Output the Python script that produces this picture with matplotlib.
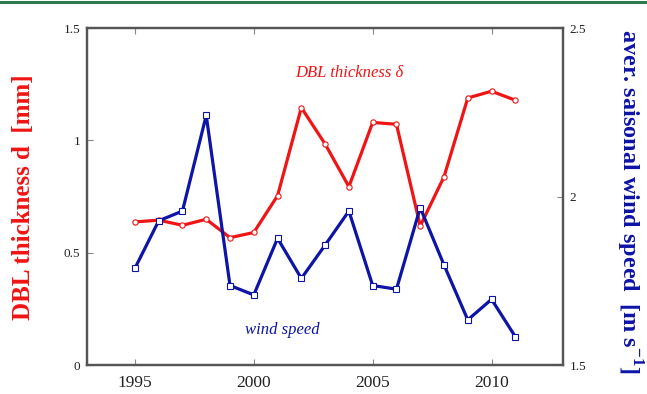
import matplotlib
matplotlib.use('Agg')
from matplotlib import pyplot as plt
from matplotlib.lines import Line2D
from matplotlib.ticker import FormatStrFormatter

plt.rcParams['font.family'] = ['Liberation Serif', 'DejaVu Serif']
plt.rcParams['mathtext.fontset'] = 'custom'
plt.rcParams['mathtext.rm'] = 'Liberation Serif'
plt.rcParams['mathtext.bf'] = 'Liberation Serif:bold'

# data
years = [1995, 1996, 1997, 1998, 1999, 2000, 2001, 2002, 2003,
         2004, 2005, 2006, 2007, 2008, 2009, 2010, 2011]
dbl = [0.637, 0.645, 0.622, 0.649, 0.567, 0.590, 0.754, 1.146, 0.984,
       0.794, 1.080, 1.072, 0.619, 0.838, 1.189, 1.219, 1.179]
wind = [1.787, 1.928, 1.957, 2.241, 1.736, 1.708, 1.876, 1.757, 1.856,
        1.957, 1.736, 1.725, 1.967, 1.797, 1.634, 1.695, 1.584]
x_ticks = [1995, 2000, 2005, 2010]
left_ticks = [0, 0.5, 1, 1.5]
right_ticks = [1.5, 2, 2.5]

red = '#f01414'
blue = '#0d14a6'
grey = '#555555'

fig = plt.figure(figsize=(6.47, 3.94), dpi=100)
ax = fig.add_axes([0.135, 0.0736, 0.735, 0.855])
ax2 = ax.twinx()

ax.plot(years, dbl, color=red, lw=2.3, marker='o', ms=3.8,
        mfc='white', mec=red, mew=0.8)
ax2.plot(years, wind, color=blue, lw=2.3, marker='s', ms=3.8,
         mfc='white', mec=blue, mew=0.8)

ax.set_xlim(1993, 2013)
ax.set_ylim(0, 1.5)
ax2.set_ylim(1.5, 2.5)
ax.set_xticks(x_ticks)
ax.set_yticks(left_ticks)
ax2.set_yticks(right_ticks)
ax.yaxis.set_major_formatter(FormatStrFormatter('%g'))
ax2.yaxis.set_major_formatter(FormatStrFormatter('%g'))

for a in (ax, ax2):
    for s in a.spines.values():
        s.set_color(grey)
        s.set_linewidth(1.6)
    a.tick_params(direction='in', length=4, width=0.8, color='#888888',
                  labelcolor='#222222')
ax.tick_params(axis='x', top=True, labelsize=12.5, pad=7)
ax.tick_params(axis='y', labelsize=9.5, pad=5)
ax2.tick_params(axis='y', labelsize=9.5, pad=5)

ax.text(2004, 1.30, 'DBL thickness δ', color=red, style='italic',
        fontsize=12, ha='center', va='center')
ax.text(2001.2, 0.157, 'wind speed', color=blue, style='italic',
        fontsize=12, ha='center', va='center')

fig.text(0.036, 0.50, 'DBL thickness d  [mm]', color=red, fontsize=18,
         fontweight='bold', rotation=90, ha='center', va='center')
fig.text(0.972, 0.49, r'aver. saisonal wind speed  [m s$^{\mathbf{-1}}$]',
         color=blue, fontsize=17.5, fontweight='bold', rotation=270,
         ha='center', va='center')

# green rule along the top edge
fig.add_artist(Line2D([0, 1], [0.994, 0.994], color='#2f7a4c', lw=2.2,
                      transform=fig.transFigure))

fig.savefig('out.png', dpi=100)
